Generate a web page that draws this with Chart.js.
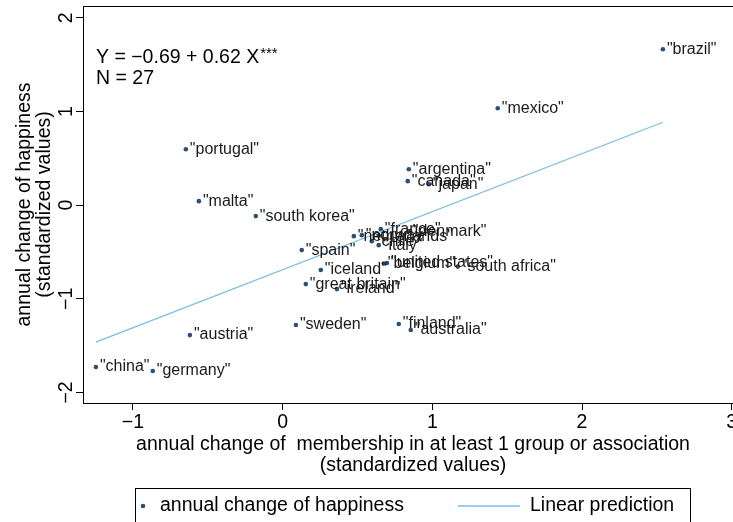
<!DOCTYPE html>
<html><head><meta charset="utf-8">
<script src="https://cdn.jsdelivr.net/npm/chart.js@4/dist/chart.umd.min.js"></script>
<style>
html,body{margin:0;padding:0;overflow:hidden;background:#fff;width:733px;height:522px}
#wrap{position:absolute;left:0;top:0;width:760px;height:522px}
</style>
</head><body><div id="wrap"><canvas id="c" width="760" height="522"></canvas></div>
<script>
// ---- data ----
const countries = ["brazil","mexico","portugal","argentina","canada","japan","malta","south korea",
  "spain","iceland","great britain","ireland","austria","china","germany","sweden","finland",
  "australia","south africa","belgium","united states","netherlands","norway","france","denmark",
  "chile","italy"];
const membershipChange = [2.54,1.437,-0.646,0.843,0.836,0.977,-0.559,-0.179,
  0.128,0.255,0.155,0.363,-0.619,-1.247,-0.867,0.089,0.776,
  0.856,1.17,0.676,0.697,0.476,0.529,0.656,0.843,
  0.596,0.642];
const happinessChange = [1.664,1.035,0.597,0.384,0.256,0.224,0.043,-0.117,
  -0.48,-0.693,-0.843,-0.896,-1.387,-1.728,-1.77,-1.28,-1.269,
  -1.333,-0.656,-0.623,-0.617,-0.331,-0.32,-0.256,-0.277,
  -0.384,-0.427];
const fitX = [-1.247, 2.54];
const fitY = [-1.463, 0.885];
const xTicks = [-1,0,1,2,3];
const yTicks = [-2,-1,0,1,2];
const xTitle = ["annual change of  membership in at least 1 group or association","(standardized values)"];
const yTitle = ["annual change of happiness","(standardized values)"];
const annotationLines = ["Y = \u22120.69 + 0.62 X","N = 27"];
const annotationStars = "***";
const legendLabels = ["annual change of happiness","Linear prediction"];

const FONT = "'Liberation Sans', Arial, Helvetica, sans-serif";
const DOT = "#2d4f73";
const LINE = "#7cbde6";
Chart.defaults.font.family = FONT;
Chart.defaults.color = "#000";

const fmt = v => (v < 0 ? "\u2212" + Math.abs(v) : String(v));

const framePlugin = {
  id: "frame",
  afterDraw(chart) {
    const {ctx, chartArea: a} = chart;
    ctx.save();
    ctx.strokeStyle = "#000"; ctx.lineWidth = 1;
    ctx.strokeRect(Math.round(a.left) + 0.5, Math.round(a.top) + 0.5,
      Math.round(a.right - a.left), Math.round(a.bottom - a.top));
    // annotation
    ctx.fillStyle = "#000";
    ctx.textBaseline = "middle"; ctx.textAlign = "left";
    ctx.font = "19.5px " + FONT;
    const ax = a.left + 13;
    ctx.fillText(annotationLines[0], ax, 58);
    const w = ctx.measureText(annotationLines[0]).width;
    ctx.font = "15px " + FONT;
    ctx.fillText(annotationStars, ax + w + 1, 54);
    ctx.font = "19.5px " + FONT;
    ctx.fillText(annotationLines[1], ax, 79);
    // legend
    ctx.strokeRect(135.5, 488.5, 555, 40);
    ctx.fillStyle = DOT;
    ctx.beginPath(); ctx.arc(143, 506, 2.3, 0, Math.PI * 2); ctx.fill();
    ctx.fillStyle = "#000";
    ctx.font = "19.5px " + FONT;
    ctx.fillText(legendLabels[0], 160, 506);
    ctx.strokeStyle = LINE; ctx.lineWidth = 1.3;
    ctx.beginPath(); ctx.moveTo(458, 506); ctx.lineTo(520, 506); ctx.stroke();
    ctx.fillText(legendLabels[1], 530, 506);
    ctx.restore();
  }
};

const labelPlugin = {
  id: "pointLabels",
  afterDatasetsDraw(chart) {
    const {ctx} = chart;
    const meta = chart.getDatasetMeta(0);
    ctx.save();
    ctx.font = "16px " + FONT;
    ctx.fillStyle = "#1a1a1a";
    ctx.textBaseline = "middle"; ctx.textAlign = "left";
    meta.data.forEach((el, i) => {
      ctx.fillText('"' + countries[i] + '"', el.x + 4, el.y);
    });
    ctx.restore();
  }
};

new Chart(document.getElementById("c"), {
  type: "scatter",
  data: {
    datasets: [
      {
        label: legendLabels[0],
        data: membershipChange.map((x, i) => ({x, y: happinessChange[i]})),
        backgroundColor: DOT, borderColor: DOT, pointRadius: 2.3, borderWidth: 0,
        showLine: false, order: 2
      },
      {
        label: legendLabels[1],
        type: "line",
        data: fitX.map((x, i) => ({x, y: fitY[i]})),
        borderColor: LINE, borderWidth: 1.3, pointRadius: 0, fill: false, order: 1
      }
    ]
  },
  options: {
    responsive: false, animation: false, devicePixelRatio: 1,
    layout: {padding: {left: 0, top: 6, right: 17, bottom: 46}},
    plugins: {legend: {display: false}, tooltip: {enabled: false}},
    scales: {
      x: {
        type: "linear", position: "bottom", min: -1.333, max: 3.075,
        afterBuildTicks: s => { s.ticks = xTicks.map(v => ({value: v})); },
        afterFit: s => { s.height = 73; s.paddingLeft = 0; s.paddingRight = 0; },
        ticks: {font: {size: 19.5}, color: "#000", padding: 1, maxRotation: 0, minRotation: 0,
          callback: v => fmt(v)},
        grid: {drawOnChartArea: false, drawTicks: true, tickLength: 7, color: "#000", lineWidth: 1},
        border: {display: false},
        title: {display: true, text: xTitle, font: {size: 19.5, lineHeight: "21px"}, color: "#000",
          padding: {top: 0, bottom: 0}}
      },
      y: {
        type: "linear", position: "left", min: -2.112, max: 2.126,
        afterBuildTicks: s => { s.ticks = yTicks.map(v => ({value: v})); },
        afterFit: s => { s.width = 83; s.paddingTop = 0; s.paddingBottom = 0; },
        ticks: {font: {size: 19.5}, color: "#000", padding: -1.5, minRotation: 90, maxRotation: 90,
          crossAlign: "center", callback: v => fmt(v)},
        grid: {drawOnChartArea: false, drawTicks: true, tickLength: 7, color: "#000", lineWidth: 1},
        border: {display: false},
        title: {display: true, text: yTitle, font: {size: 19.5, lineHeight: "19.5px"}, color: "#000",
          padding: {top: 15, bottom: 0}}
      }
    }
  },
  plugins: [framePlugin, labelPlugin]
});
</script>
</body></html>
